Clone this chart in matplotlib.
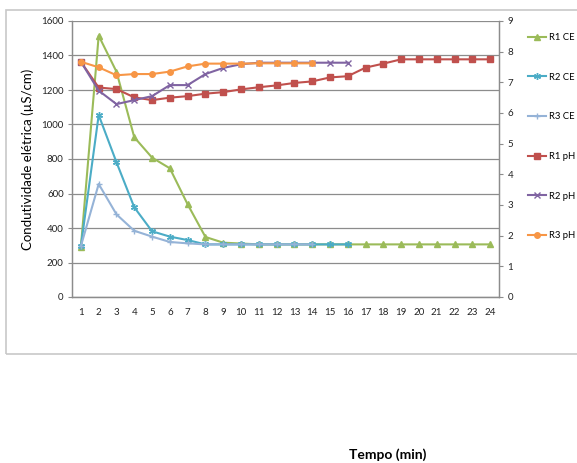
import matplotlib.pyplot as plt
from matplotlib.patches import Rectangle

# dados
tempo = list(range(1, 25))
r1_ce = [290, 1515, 1306, 926, 808, 746, 537, 348, 315, 310, 305, 305,
         305, 305, 305, 305, 305, 305, 305, 305, 305, 305, 305, 305]
r2_ce = [295, 1055, 781, 520, 381, 350, 330, 305, 305, 305, 305, 305,
         305, 305, 305, 305]
r3_ce = [295, 655, 479, 384, 350, 319, 311, 305, 305, 305, 305, 305,
         305, 305]
r1_ph = [7.67, 6.83, 6.78, 6.51, 6.42, 6.50, 6.55, 6.63, 6.68, 6.77, 6.84, 6.90,
         6.98, 7.03, 7.16, 7.20, 7.48, 7.61, 7.75, 7.75, 7.75, 7.75, 7.75, 7.75]
r2_ph = [7.67, 6.73, 6.29, 6.42, 6.55, 6.91, 6.91, 7.27, 7.47, 7.59, 7.64, 7.64,
         7.64, 7.64, 7.64, 7.64]
r3_ph = [7.67, 7.49, 7.23, 7.27, 7.27, 7.35, 7.52, 7.61, 7.61, 7.61, 7.62, 7.62,
         7.62, 7.62]

plt.rcParams['font.family'] = ['Lato', 'DejaVu Sans']

W, H = 577, 463
fig = plt.figure(figsize=(W / 100, H / 100), dpi=100)

# moldura do gráfico
fig.patches.append(Rectangle((6 / W, 1 - 354 / H), 1, (354 - 10) / H,
                             transform=fig.transFigure, fill=False,
                             edgecolor='#c8c8c8', linewidth=1.2))

ax = fig.add_axes([72 / W, 1 - 297 / H, (499 - 72) / W, (297 - 21) / H])
ax2 = ax.twinx()

gc = '#8c8c8c'
ax.set_xlim(0.5, 24.5)
ax.set_ylim(0, 1600)
ax.set_yticks(range(0, 1601, 200))
ax.set_xticks(tempo)
ax.yaxis.grid(True, color=gc, linewidth=0.9)
ax.set_axisbelow(True)
ax2.set_ylim(0, 9)
ax2.set_yticks(range(0, 10))

for a in (ax, ax2):
    for s in a.spines.values():
        s.set_color(gc)
        s.set_linewidth(0.9)
    a.spines['top'].set_visible(False)
ax.tick_params(axis='y', length=3, color=gc, labelsize=7, pad=3, labelcolor='#222222')
ax.tick_params(axis='x', length=0, labelsize=7, pad=8, labelcolor='#222222')
ax2.tick_params(axis='y', length=3, color=gc, labelsize=7, pad=3, labelcolor='#222222')

lw, ms = 1.5, 4
ax.plot(tempo, r1_ce, color='#9bbb59', marker='^', ms=ms, lw=lw, label='R1 CE')
ax.plot(tempo[:len(r2_ce)], r2_ce, color='#4bacc6', marker=(6, 2, 0), ms=ms + 1,
        mew=1, lw=lw, label='R2 CE')
ax.plot(tempo[:len(r3_ce)], r3_ce, color='#95b3d7', marker='+', ms=ms + 1,
        mew=1, lw=lw, label='R3 CE')
ax2.plot(tempo, r1_ph, color='#c0504d', marker='s', ms=ms, lw=lw, label='R1 pH')
ax2.plot(tempo[:len(r2_ph)], r2_ph, color='#8064a2', marker='x', ms=ms, mew=1,
         lw=lw, label='R2 pH')
ax2.plot(tempo[:len(r3_ph)], r3_ph, color='#f79646', marker='o', ms=ms, lw=lw,
         label='R3 pH')

ax.set_ylabel('Condutividade elétrica (µS/cm)', fontsize=9.5, labelpad=5)

h1, l1 = ax.get_legend_handles_labels()
h2, l2 = ax2.get_legend_handles_labels()
fig.legend(h1 + h2, l1 + l2, loc='upper left', bbox_to_anchor=(528 / W, 1 - 33 / H),
           frameon=False, fontsize=6.8, labelspacing=3.25, handlelength=1.9,
           handletextpad=0.3, borderaxespad=0, borderpad=0)

fig.text(388 / W, 1 - 455 / H, 'Tempo (min)', ha='center', va='center',
         fontsize=10, fontweight='bold')

fig.savefig('out.png', dpi=100)
